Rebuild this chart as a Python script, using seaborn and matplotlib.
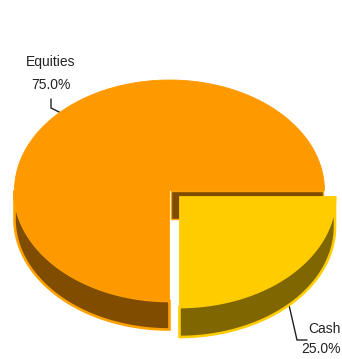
import numpy as np
import seaborn as sns
import matplotlib
matplotlib.use("Agg")
import matplotlib.pyplot as plt
from matplotlib.patches import Polygon

categories = ["Cash", "Equities"]
shares = [25.0, 75.0]
top_colors = ["#FFCC00", "#FF9900"]
side_colors = ["#806600", "#804D00"]
edge_colors = ["#FFCC00", "#FFA200"]

sns.set_theme(style="white")
plt.rcParams["font.family"] = ["Liberation Sans", "DejaVu Sans"]

fig = plt.figure(figsize=(3.42, 3.59), dpi=100)
ax = fig.add_axes([0, 0, 1, 1])
ax.set_xlim(0, 342)
ax.set_ylim(359, 0)
ax.axis("off")

# Centre, radii and depth of each slice, on a canvas measured in pixels
layout = {
    "Cash": dict(cx=179.5, cy=196.5, rx=155.5, ry=110.5, depth=30),
    "Equities": dict(cx=169.5, cy=190.5, rx=155.0, ry=110.5, depth=28.5),
}


def arc(g, start, stop, drop=0.0):
    t = np.radians(np.linspace(start, stop, 200))
    return np.column_stack([g["cx"] + g["rx"] * np.cos(t),
                            g["cy"] + g["ry"] * np.sin(t) + drop])


def draw_slice(name, start, stop, color, side, edge):
    g = layout[name]
    d = g["depth"]
    centre = np.array([[g["cx"], g["cy"]]])
    # Outer rim: only the part of the arc that faces the viewer
    lo, hi = max(start, 0), min(stop, 180)
    if hi > lo:
        rim = np.vstack([arc(g, lo, hi), arc(g, hi, lo, d)])
        ax.add_patch(Polygon(rim, closed=True, fc=side, ec=edge, lw=1.9, zorder=3))
    top = np.vstack([centre, arc(g, start, stop)])
    ax.add_patch(Polygon(top, closed=True, fc=color, ec=color, lw=0.6, zorder=4))


angle = 0.0
bounds = {}
for name, share in zip(categories, shares):
    bounds[name] = (angle, angle + share * 3.6)
    angle += share * 3.6

# Back wall of the gap left by the pulled-out slice
eq = layout["Equities"]
ax.add_patch(Polygon(
    [[eq["cx"] + 1, eq["cy"]], [eq["cx"] + eq["rx"] - 2, eq["cy"]],
     [eq["cx"] + eq["rx"] - 2, eq["cy"] + eq["depth"]], [eq["cx"] + 1, eq["cy"] + eq["depth"]]],
    closed=True, fc=side_colors[1], ec=edge_colors[1], lw=1.0, zorder=2))

draw_slice("Equities", *bounds["Equities"], top_colors[1], side_colors[1], edge_colors[1])
draw_slice("Cash", *bounds["Cash"], top_colors[0], side_colors[0], edge_colors[0])

# Leader lines and labels
ink = "#222222"
ax.plot([51, 51, 61], [99, 108, 113], color=ink, lw=1.0, zorder=1, solid_joinstyle="miter")
ax.plot([289, 297, 307], [305, 340, 340], color=ink, lw=1.0, zorder=1, solid_joinstyle="miter")

for name, share, x, y1, y2, ha in [("Equities", shares[1], 51, 62, 85, "center"),
                                    ("Cash", shares[0], 341, 329, 349, "right")]:
    ax.text(x, y1, name, ha=ha, va="center", fontsize=10, color=ink)
    ax.text(x, y2, f"{share:.1f}%", ha=ha, va="center", fontsize=10, color=ink)

fig.savefig("out.png", dpi=100)
